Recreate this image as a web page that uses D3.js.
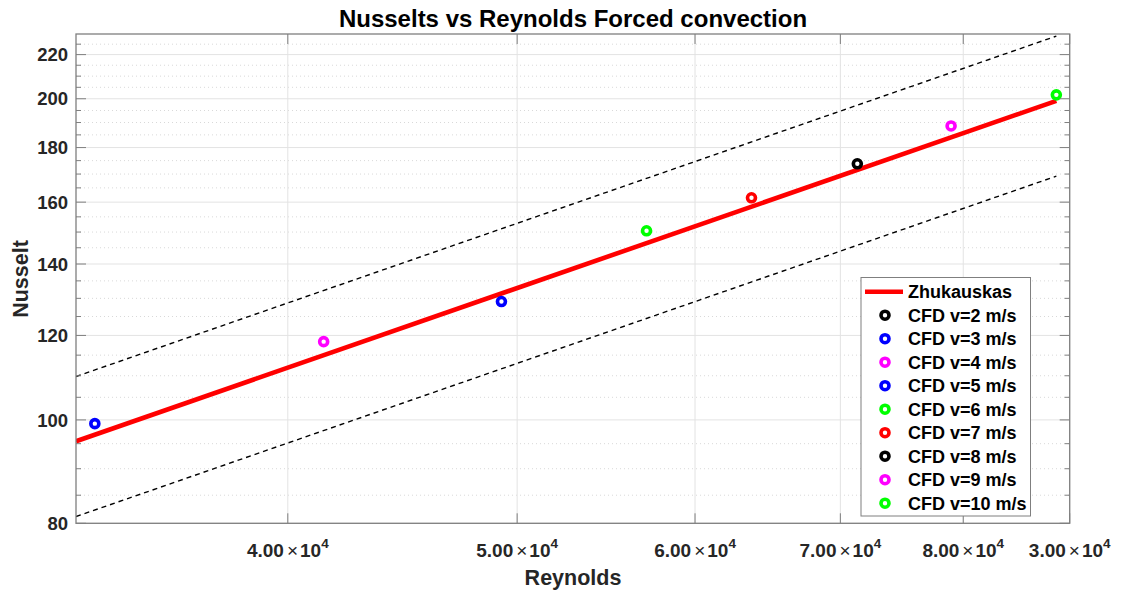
<!DOCTYPE html>
<html>
<head>
<meta charset="utf-8">
<script src="https://cdn.jsdelivr.net/npm/d3@7/dist/d3.min.js"></script>
<style>
  html, body { margin: 0; padding: 0; background: #ffffff; }
  svg { display: block; font-family: "Liberation Sans", Arial, Helvetica, sans-serif; }
</style>
</head>
<body>
<svg id="chart" width="1121" height="592"></svg>
<script>
// Forced convection: CFD Nusselt numbers against the Zhukauskas correlation
const speeds = [2, 3, 4, 5, 6, 7, 8, 9, 10];
const cfdReynolds = [15700, 23550, 31380, 39220, 47050, 53670, 61290, 68940, 78670];
const cfdNusselt = [76.5, 99.2, 118.4, 129.1, 150.4, 161.5, 173.8, 188.6, 201.7];
const cfdColors = ["#000000", "#0000ff", "#ff00ff", "#0000ff", "#00ff00", "#ff0000", "#000000", "#ff00ff", "#00ff00"];

const zhukReynolds = [23000, 78670];
const zhukNusselt = [95.5, 199.1];
const tolerance = 0.15; // +/-15 % band around the correlation

const reynoldsTicks = [30000, 40000, 50000, 60000, 70000, 80000];
const reynoldsTickMantissa = ["4.00", "5.00", "6.00", "7.00", "8.00", "3.00"];
const reynoldsTickExponent = "4";
const nusseltTicks = [80, 100, 120, 140, 160, 180, 200, 220];
const nusseltMinorTicks = [85, 90, 95, 105, 110, 115, 125, 130, 135, 145, 150, 155, 165, 170, 175, 185, 190, 195, 205, 210, 215, 225];

const plot = { left: 76, top: 34, right: 1069.7, bottom: 523.3 };
const svg = d3.select("#chart");

const x = d3.scaleLog().domain([23000, 80000]).range([plot.left, plot.right]);
const y = d3.scaleLog().domain([80, 230]).range([plot.bottom, plot.top]);

const axisColor = "#7f7f7f";
const textColor = "#262626";

// background
svg.append("rect").attr("x", plot.left).attr("y", plot.top)
  .attr("width", plot.right - plot.left).attr("height", plot.bottom - plot.top)
  .attr("fill", "#ffffff");

svg.append("defs").append("clipPath").attr("id", "plotClip")
  .append("rect").attr("x", plot.left).attr("y", plot.top)
  .attr("width", plot.right - plot.left).attr("height", plot.bottom - plot.top);

// grid
const grid = svg.append("g");
grid.selectAll(".ygmin").data(nusseltMinorTicks).join("line")
  .attr("x1", plot.left).attr("x2", plot.right)
  .attr("y1", d => y(d)).attr("y2", d => y(d))
  .attr("stroke", "#d9d9d9").attr("stroke-width", 1).attr("stroke-dasharray", "1,3");
grid.selectAll(".ygmaj").data(nusseltTicks).join("line")
  .attr("x1", plot.left).attr("x2", plot.right)
  .attr("y1", d => y(d)).attr("y2", d => y(d))
  .attr("stroke", "#e3e3e3").attr("stroke-width", 1);
grid.selectAll(".xg").data(reynoldsTicks).join("line")
  .attr("x1", d => x(d)).attr("x2", d => x(d))
  .attr("y1", plot.top).attr("y2", plot.bottom)
  .attr("stroke", "#e3e3e3").attr("stroke-width", 1);

// curves
const curves = svg.append("g").attr("clip-path", "url(#plotClip)");
const line = d3.line().x(d => x(d[0])).y(d => y(d[1]));
const zhuk = zhukReynolds.map((r, i) => [r, zhukNusselt[i]]);
const upper = zhuk.map(d => [d[0], d[1] * (1 + tolerance)]);
const lower = zhuk.map(d => [d[0], d[1] * (1 - tolerance)]);

[upper, lower].forEach(band => {
  curves.append("path").attr("d", line(band))
    .attr("fill", "none").attr("stroke", "#000000")
    .attr("stroke-width", 1.4).attr("stroke-dasharray", "5,4");
});
curves.append("path").attr("d", line(zhuk))
  .attr("fill", "none").attr("stroke", "#ff0000").attr("stroke-width", 4.6);

curves.selectAll(".pt").data(speeds).join("circle")
  .attr("cx", (d, i) => x(cfdReynolds[i]))
  .attr("cy", (d, i) => y(cfdNusselt[i]))
  .attr("r", 4)
  .attr("fill", "#ffffff")
  .attr("stroke", (d, i) => cfdColors[i])
  .attr("stroke-width", 3.6);

// axes box and ticks
const axes = svg.append("g");
const majorLen = 10, minorLen = 5;
nusseltTicks.forEach(v => {
  axes.append("line").attr("x1", plot.left).attr("x2", plot.left + majorLen)
    .attr("y1", y(v)).attr("y2", y(v)).attr("stroke", axisColor);
  axes.append("line").attr("x1", plot.right).attr("x2", plot.right - majorLen)
    .attr("y1", y(v)).attr("y2", y(v)).attr("stroke", axisColor);
});
nusseltMinorTicks.forEach(v => {
  axes.append("line").attr("x1", plot.left).attr("x2", plot.left + minorLen)
    .attr("y1", y(v)).attr("y2", y(v)).attr("stroke", axisColor);
  axes.append("line").attr("x1", plot.right).attr("x2", plot.right - minorLen)
    .attr("y1", y(v)).attr("y2", y(v)).attr("stroke", axisColor);
});
reynoldsTicks.forEach(v => {
  axes.append("line").attr("x1", x(v)).attr("x2", x(v))
    .attr("y1", plot.bottom).attr("y2", plot.bottom - majorLen).attr("stroke", axisColor);
  axes.append("line").attr("x1", x(v)).attr("x2", x(v))
    .attr("y1", plot.top).attr("y2", plot.top + majorLen).attr("stroke", axisColor);
});
axes.append("rect").attr("x", plot.left).attr("y", plot.top)
  .attr("width", plot.right - plot.left).attr("height", plot.bottom - plot.top)
  .attr("fill", "none").attr("stroke", axisColor).attr("stroke-width", 1.3);

// tick labels
svg.append("g").selectAll("text").data(nusseltTicks).join("text")
  .attr("x", plot.left - 8).attr("y", d => y(d)).attr("dy", "0.36em")
  .attr("text-anchor", "end").attr("font-size", 18.5).attr("font-weight", "bold")
  .attr("fill", textColor).text(d => d);

const xl = svg.append("g").selectAll("text").data(reynoldsTicks).join("text")
  .attr("x", d => x(d)).attr("y", 557)
  .attr("text-anchor", "middle").attr("font-size", 19).attr("font-weight", "bold")
  .attr("fill", textColor);
xl.append("tspan").text((d, i) => reynoldsTickMantissa[i]);
xl.append("tspan").attr("font-weight", "normal").attr("dx", 3).text("\u00d7");
xl.append("tspan").attr("dx", 2).text("10");
xl.append("tspan").attr("font-size", 13.5).attr("dy", -9).text(reynoldsTickExponent);

// titles
svg.append("text").attr("x", 573).attr("y", 27).attr("text-anchor", "middle")
  .attr("font-size", 24).attr("font-weight", "bold").attr("fill", "#000000")
  .text("Nusselts vs Reynolds Forced convection");
svg.append("text").attr("x", 573).attr("y", 585).attr("text-anchor", "middle")
  .attr("font-size", 21.5).attr("font-weight", "bold").attr("fill", textColor)
  .text("Reynolds");
svg.append("text").attr("transform", "translate(27.5,279) rotate(-90)")
  .attr("text-anchor", "middle").attr("font-size", 21.5).attr("font-weight", "bold")
  .attr("fill", textColor).text("Nusselt");

// legend
const legend = svg.append("g");
const lg = { x: 861, y: 277.5, w: 169.5, h: 238.5, row0: 291.7, step: 23.5 };
legend.append("rect").attr("x", lg.x).attr("y", lg.y).attr("width", lg.w).attr("height", lg.h)
  .attr("fill", "#ffffff").attr("stroke", axisColor).attr("stroke-width", 1);
legend.append("line").attr("x1", 865).attr("x2", 903)
  .attr("y1", lg.row0).attr("y2", lg.row0).attr("stroke", "#ff0000").attr("stroke-width", 4.6);
legend.append("text").attr("x", 908).attr("y", lg.row0).attr("dy", "0.36em")
  .attr("font-size", 18).attr("font-weight", "bold").attr("fill", "#000000").text("Zhukauskas");
const rows = legend.selectAll(".row").data(speeds).join("g")
  .attr("transform", (d, i) => `translate(0,${lg.row0 + lg.step * (i + 1)})`);
rows.append("circle").attr("cx", 885).attr("cy", 0).attr("r", 4)
  .attr("fill", "#ffffff").attr("stroke", (d, i) => cfdColors[i]).attr("stroke-width", 3.6);
rows.append("text").attr("x", 908).attr("dy", "0.36em")
  .attr("font-size", 18).attr("font-weight", "bold").attr("fill", "#000000")
  .text(d => `CFD v=${d} m/s`);
</script>
</body>
</html>
